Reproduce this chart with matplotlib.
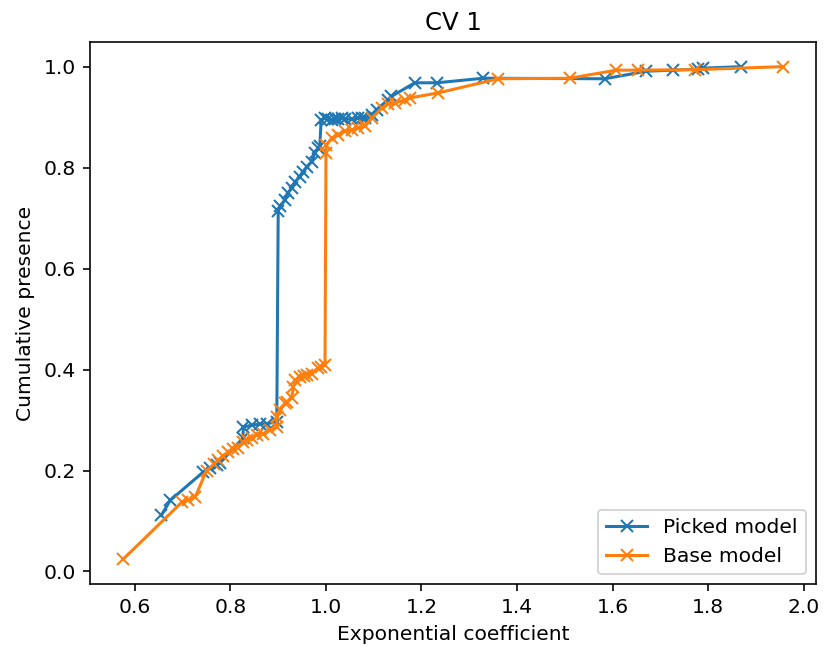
import matplotlib
matplotlib.use('Agg')
import matplotlib.pyplot as plt

picked_x = [0.655, 0.674, 0.743, 0.757, 0.771, 0.778, 0.826, 0.827, 0.845, 0.862,
            0.876, 0.897, 0.900, 0.904, 0.914, 0.921, 0.928, 0.935, 0.946, 0.952,
            0.960, 0.970, 0.977, 0.984, 0.987, 0.990, 0.998, 1.005, 1.012, 1.019,
            1.026, 1.033, 1.040, 1.054, 1.068, 1.075, 1.082, 1.096, 1.106, 1.130,
            1.137, 1.186, 1.232, 1.329, 1.584, 1.671, 1.727, 1.780, 1.790, 1.870]
picked_y = [0.111, 0.141, 0.197, 0.204, 0.210, 0.215, 0.264, 0.286, 0.290, 0.292,
            0.293, 0.296, 0.715, 0.723, 0.736, 0.750, 0.760, 0.772, 0.782, 0.792,
            0.802, 0.812, 0.829, 0.839, 0.842, 0.895, 0.898, 0.896, 0.895, 0.897,
            0.896, 0.898, 0.897, 0.896, 0.898, 0.899, 0.899, 0.905, 0.915, 0.934,
            0.941, 0.968, 0.968, 0.977, 0.976, 0.991, 0.993, 0.995, 0.997, 1.000]

base_x = [0.575, 0.698, 0.712, 0.726, 0.750, 0.765, 0.774, 0.785, 0.795, 0.806,
          0.816, 0.827, 0.834, 0.845, 0.855, 0.869, 0.883, 0.897, 0.897, 0.904,
          0.914, 0.918, 0.928, 0.932, 0.935, 0.946, 0.953, 0.960, 0.970, 0.983,
          0.990, 0.998, 1.000, 1.001, 1.012, 1.026, 1.040, 1.054, 1.068, 1.082,
          1.096, 1.117, 1.130, 1.144, 1.165, 1.176, 1.235, 1.361, 1.510, 1.608,
          1.653, 1.772, 1.957]
base_y = [0.024, 0.137, 0.142, 0.147, 0.200, 0.212, 0.220, 0.229, 0.237, 0.243,
          0.244, 0.257, 0.260, 0.265, 0.270, 0.273, 0.280, 0.286, 0.306, 0.319,
          0.333, 0.336, 0.343, 0.366, 0.379, 0.386, 0.388, 0.389, 0.392, 0.403,
          0.405, 0.409, 0.829, 0.845, 0.858, 0.865, 0.872, 0.875, 0.878, 0.882,
          0.898, 0.918, 0.925, 0.928, 0.934, 0.938, 0.948, 0.976, 0.977, 0.993,
          0.993, 0.994, 1.000]

dpi = 146
fig = plt.figure(figsize=(824 / dpi, 651 / dpi), dpi=dpi)
ax = fig.add_axes([90 / 824, 67 / 651, 726 / 824, 542 / 651])

ax.plot(picked_x, picked_y, marker='x', label='Picked model')
ax.plot(base_x, base_y, marker='x', label='Base model')

ax.set_title('CV 1')
ax.set_xlabel('Exponential coefficient')
ax.set_ylabel('Cumulative presence')
ax.legend(loc='lower right')

fig.savefig('out.png', dpi=dpi)
